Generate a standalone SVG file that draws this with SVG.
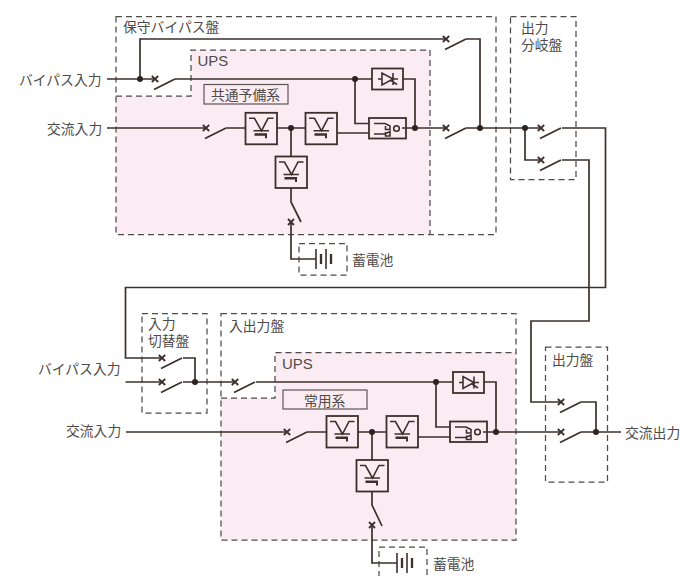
<svg xmlns="http://www.w3.org/2000/svg" xmlns:xlink="http://www.w3.org/1999/xlink" width="680" height="576" viewBox="0 0 680 576">
<style>
text{font-family:"Noto Sans CJK JP","Liberation Sans",sans-serif;font-size:13.8px;fill:#4f4b49}
text.mid{dominant-baseline:central}
.ups{font-family:"Liberation Sans",sans-serif;font-size:15px}
.dash{fill:none;stroke:#4f4b49;stroke-width:1.25;stroke-dasharray:6 4}
.box{fill:none;stroke:#5a5654;stroke-width:1.2}
.pink{fill:#fbebf3;stroke:none}
.w{fill:none;stroke:#3d302c;stroke-width:1.7}
.sym{fill:none;stroke:#3d302c;stroke-width:1.6}
.th{fill:none;stroke:#3d302c;stroke-width:1.8}
.dot{fill:#2e2320;stroke:none}
</style>
<defs>
<g id="brk"><path class="th" d="M-3.200-3L3.200 3M-3.200 3L3.200-3M-1 10.500L20 0"/></g>
<g id="inv"><rect class="th" x="0" y="0" width="31.500" height="31.500" fill="none"/><path class="sym" d="M3.500 5.500H9L16 18L22.500 5.500H28M8 18H23.500"/><path d="M9 20.500H21.500V25.500H19.500V23H9Z" fill="#3d302c"/></g>
<g id="dio"><rect class="th" x="0" y="0" width="31" height="21"/><path class="sym" d="M6 10.500H10M10 4.500V16.500L21 10.500ZM21 4.500V16.500M21 10.500H26M19 12L25 16"/></g>
<g id="ssw"><rect class="th" x="0" y="0" width="37" height="20.500"/><path class="sym" d="M5 5.500H16L21 8V11.500H16.500V8M5 16H16L21 13.500V18H16.500V14"/><circle class="sym" cx="27.500" cy="10.500" r="2.800"/></g>
<g id="bat"><path class="sym" d="M0-10V10M10-10V10"/><path d="M5-5V5M15-5V5" fill="none" stroke="#3d302c" stroke-width="2.300"/></g>
</defs>

<g id="areas">
<path class="pink" d="M191 50H430V235H116V96H191Z"/>
<path class="pink" d="M275 352H516V540H221V398H275Z"/>
</g>

<g id="panel-hoshu"><rect class="dash" x="116" y="16.500" width="380" height="218"/><path class="dash" d="M116 96H191V50H430V234"/><text x="123" y="26" class="mid">保守バイパス盤</text></g>
<g id="ups-top"><text class="ups" x="197.500" y="65.500">UPS</text></g>
<g id="label-kyotsu"><rect class="box" x="204" y="84.500" width="84" height="19.500"/><text x="211" y="94" class="mid">共通予備系</text></g>
<g id="panel-bunki"><rect class="dash" x="510.500" y="16.500" width="65.500" height="163"/><text y="33"><tspan x="521">出力</tspan><tspan x="521" dy="17">分岐盤</tspan></text></g>
<g id="battery-top"><rect class="dash" x="299" y="243.500" width="48" height="31.500"/><use href="#bat" x="316" y="259"/><text x="352" y="259" class="mid">蓄電池</text></g>

<g id="panel-kirikae"><rect class="dash" x="142" y="313.500" width="65" height="99.500"/><text y="329"><tspan x="148">入力</tspan><tspan x="148" dy="17">切替盤</tspan></text></g>
<g id="panel-io"><rect class="dash" x="221" y="313.500" width="295" height="226.500"/><path class="dash" d="M221 398H275V352.500H516"/><text x="229" y="325" class="mid">入出力盤</text></g>
<g id="ups-bottom"><text class="ups" x="282" y="369">UPS</text></g>
<g id="label-joyo"><rect class="box" x="283" y="390" width="84" height="19"/><text x="304" y="399.500" class="mid">常用系</text></g>
<g id="panel-output"><rect class="dash" x="545.500" y="347" width="62" height="135"/><text x="552" y="359" class="mid">出力盤</text></g>
<g id="battery-bottom"><rect class="dash" x="379" y="547" width="48" height="32"/><use href="#bat" x="397" y="563"/><text x="433" y="563" class="mid">蓄電池</text></g>

<g id="input-labels">
<text x="19" y="79" class="mid">バイパス入力</text>
<text x="47" y="128" class="mid">交流入力</text>
<text x="38" y="368" class="mid">バイパス入力</text>
<text x="66" y="430" class="mid">交流入力</text>
<text x="625" y="431.500" class="mid">交流出力</text>
</g>

<g id="connectors">
<path class="w" d="M107 79H155M175 79H372M403 79H415V128M140 79V39H446M466 39H480V128"/>
<path class="w" d="M355 79V123.500H369M107 128H206M226 128H245.500M277 128H305.500M291 128V156.500M337 133H369M402 128H446M466 128H541M525 128V160H541"/>
<path class="w" d="M562 128H605.500V287.500H125.500V358H162M562 160H589V321H531V402H561M581 402H596V432"/>
<path class="w" d="M291 188V202L301 222M291 222V259H316"/>
<path class="w" d="M125.500 382H162M183 382H235M183 358H195V382M256 382H453M484 382H496V432M436 382V427H450M126 432H287M307 432H327M358 432H386.500M418 437H450M372 432V460M483 432H561M581 432H621"/>
<path class="w" d="M372 492V505L382 526M372 526V563H397"/>
<use href="#brk" x="155" y="79"/><use href="#brk" x="206" y="128"/><use href="#brk" x="446" y="39"/><use href="#brk" x="446" y="128"/>
<use href="#brk" x="541" y="128"/><use href="#brk" x="541" y="160"/>
<use href="#brk" x="162" y="358"/><use href="#brk" x="162" y="382"/><use href="#brk" x="235" y="382"/><use href="#brk" x="287" y="432"/>
<use href="#brk" x="561" y="402"/><use href="#brk" x="561" y="432"/>
<path class="th" d="M288-3L294 3M288 3L294-3" transform="translate(0 222)"/>
<path class="th" d="M369-3L375 3M369 3L375-3" transform="translate(0 525)"/>
<g class="dots">
<circle class="dot" cx="140" cy="79" r="3"/><circle class="dot" cx="355" cy="79" r="3"/><circle class="dot" cx="291" cy="128" r="3"/><circle class="dot" cx="415" cy="128" r="3"/><circle class="dot" cx="480" cy="128" r="3"/><circle class="dot" cx="525" cy="128" r="3"/>
<circle class="dot" cx="195" cy="382" r="3"/><circle class="dot" cx="436" cy="382" r="3"/><circle class="dot" cx="372" cy="432" r="3"/><circle class="dot" cx="496" cy="432" r="3"/><circle class="dot" cx="596" cy="432" r="3"/>
</g>
</g>

<g id="conv-top-1"><use href="#inv" x="245.500" y="112.800"/></g>
<g id="conv-top-2"><use href="#inv" x="305.500" y="112.800"/></g>
<g id="conv-top-3"><use href="#inv" x="275.500" y="156.500"/></g>
<g id="diode-top"><use href="#dio" x="372" y="68.500"/></g>
<g id="switch-top"><use href="#ssw" x="369" y="118"/></g>
<g id="conv-bottom-1"><use href="#inv" x="326.500" y="416"/></g>
<g id="conv-bottom-2"><use href="#inv" x="386.500" y="416"/></g>
<g id="conv-bottom-3"><use href="#inv" x="356.500" y="460"/></g>
<g id="diode-bottom"><use href="#dio" x="453" y="372"/></g>
<g id="switch-bottom"><use href="#ssw" x="450" y="421.500"/></g>
</svg>
